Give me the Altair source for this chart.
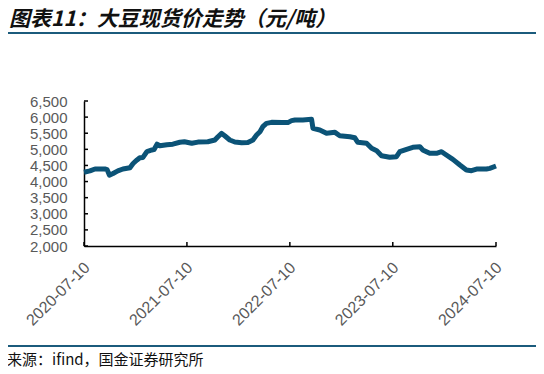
import altair as alt
import pandas as pd

dates = [
    "2020-07-10", "2020-07-31", "2020-08-18", "2020-09-22", "2020-09-30", "2020-10-08",
    "2020-10-21", "2020-11-07", "2020-11-25", "2020-12-20", "2020-12-31", "2021-01-14",
    "2021-01-24", "2021-02-04", "2021-02-18", "2021-03-08", "2021-03-15", "2021-03-26",
    "2021-04-05", "2021-04-30", "2021-05-21", "2021-06-15", "2021-07-01", "2021-07-27",
    "2021-08-18", "2021-09-22", "2021-10-17", "2021-10-28", "2021-11-10", "2021-11-22",
    "2021-12-09", "2021-12-27", "2022-01-20", "2022-02-11", "2022-03-01", "2022-03-14",
    "2022-03-26", "2022-04-05", "2022-04-18", "2022-05-06", "2022-06-11", "2022-07-03",
    "2022-07-16", "2022-07-28", "2022-08-25", "2022-09-25", "2022-09-30", "2022-10-24",
    "2022-11-17", "2022-12-17", "2023-01-03", "2023-02-08", "2023-02-25", "2023-03-08",
    "2023-04-08", "2023-04-26", "2023-05-14", "2023-05-31", "2023-06-29", "2023-07-23",
    "2023-08-04", "2023-08-28", "2023-09-19", "2023-10-14", "2023-10-24", "2023-11-18",
    "2023-12-12", "2023-12-30", "2024-01-16", "2024-02-08", "2024-03-04", "2024-03-27",
    "2024-04-14", "2024-05-02", "2024-06-06", "2024-06-18", "2024-07-10",
]
prices = [
    4290, 4330, 4390, 4390, 4370, 4200,
    4250, 4330, 4390, 4430, 4560, 4670,
    4740, 4750, 4930, 4980, 4990, 5160,
    5110, 5145, 5160, 5220, 5235, 5187,
    5225, 5237, 5290, 5390, 5496, 5413,
    5289, 5227, 5206, 5210, 5289, 5444,
    5548, 5703, 5807, 5838, 5830, 5830,
    5890, 5910, 5910, 5930, 5651, 5600,
    5496, 5527, 5423, 5392, 5360, 5217,
    5187, 5031, 4958, 4802, 4752, 4772,
    4927, 5000, 5062, 5082, 4980, 4876,
    4876, 4927, 4824, 4690, 4513, 4358,
    4337, 4389, 4389, 4410, 4482,
]
y_ticks = [2000, 2500, 3000, 3500, 4000, 4500, 5000, 5500, 6000, 6500]
x_ticks = ["2020-07-10", "2021-07-10", "2022-07-10", "2023-07-10", "2024-07-10"]
title_text = ["图表11：大豆现货价走势（元/吨）"]
source_text = ["来源：ifind，国金证券研究所"]

W, H = 412, 145
LINE_COLOR = "#0b5377"
RULE_COLOR = "#1b5b7c"

df = pd.DataFrame({"date": dates, "price": prices})
xt_dt = [alt.DateTime(year=int(s[:4]), month=7, date=10, utc=True) for s in x_ticks]

x_scale = alt.Scale(type="utc", domain=[xt_dt[0], xt_dt[-1]])
y_scale = alt.Scale(domain=[2000, 6500], nice=False, zero=False)

x_axis = alt.Axis(
    values=xt_dt,
    format="%Y-%m-%d",
    labelAngle=-45,
    labelAlign="right",
    labelFont="Liberation Sans",
    labelFontSize=16,
    labelColor="#595959",
    labelPadding=13,
    labelOffset=-3,
    ticks=False,
    grid=False,
    domainColor="black",
    domainWidth=1.5,
    labelOverlap=False,
    title=None,
)
y_axis = alt.Axis(
    values=y_ticks,
    format=",d",
    labelFont="Liberation Sans",
    labelFontSize=15,
    labelColor="#595959",
    labelPadding=17,
    ticks=False,
    grid=False,
    domainColor="black",
    domainWidth=1.5,
    labelOverlap=False,
    title=None,
)

line = alt.Chart(df).mark_line(color=LINE_COLOR, strokeWidth=5, strokeJoin="round").encode(
    x=alt.X("date:T", scale=x_scale, axis=x_axis, title=None),
    y=alt.Y("price:Q", scale=y_scale, axis=y_axis, title=None),
)

ytick = alt.Chart(pd.DataFrame({"v": y_ticks})).mark_rule(color="black", strokeWidth=1.5).encode(
    y=alt.Y("v:Q", scale=y_scale, axis=y_axis, title=None),
    x=alt.value(0),
    x2=alt.value(4),
)
xtick = alt.Chart(pd.DataFrame({"d": x_ticks})).mark_rule(color="black", strokeWidth=1.5).encode(
    x=alt.X("d:T", scale=x_scale, axis=x_axis, title=None),
    y=alt.value(H),
    y2=alt.value(H - 4),
)

one = pd.DataFrame({"t": title_text, "s": source_text})
title = alt.Chart(one).mark_text(
    align="left", baseline="middle", fontSize=21, font="Noto Sans CJK SC",
    fontStyle="italic", fontWeight="bold", color="#111111",
).encode(text="t:N", x=alt.value(-75), y=alt.value(-81))
source = alt.Chart(one).mark_text(
    align="left", baseline="middle", fontSize=15, font="Noto Sans CJK SC", color="#111111",
).encode(text="s:N", x=alt.value(-77), y=alt.value(259))
top_rule = alt.Chart(one).mark_rule(color=RULE_COLOR, strokeWidth=2).encode(
    x=alt.value(-76), x2=alt.value(452), y=alt.value(-68)
)
bot_rule = alt.Chart(one).mark_rule(color=RULE_COLOR, strokeWidth=2).encode(
    x=alt.value(-76), x2=alt.value(452), y=alt.value(245)
)

chart = alt.layer(line, ytick, xtick, title, source, top_rule, bot_rule).properties(
    width=W,
    height=H,
    autosize=alt.AutoSizeParams(type="none"),
    padding={"left": 76, "top": 93, "right": 40, "bottom": 128},
).configure_view(stroke=None)

chart.save("out.html", embed_options={"renderer": "svg", "actions": False})
